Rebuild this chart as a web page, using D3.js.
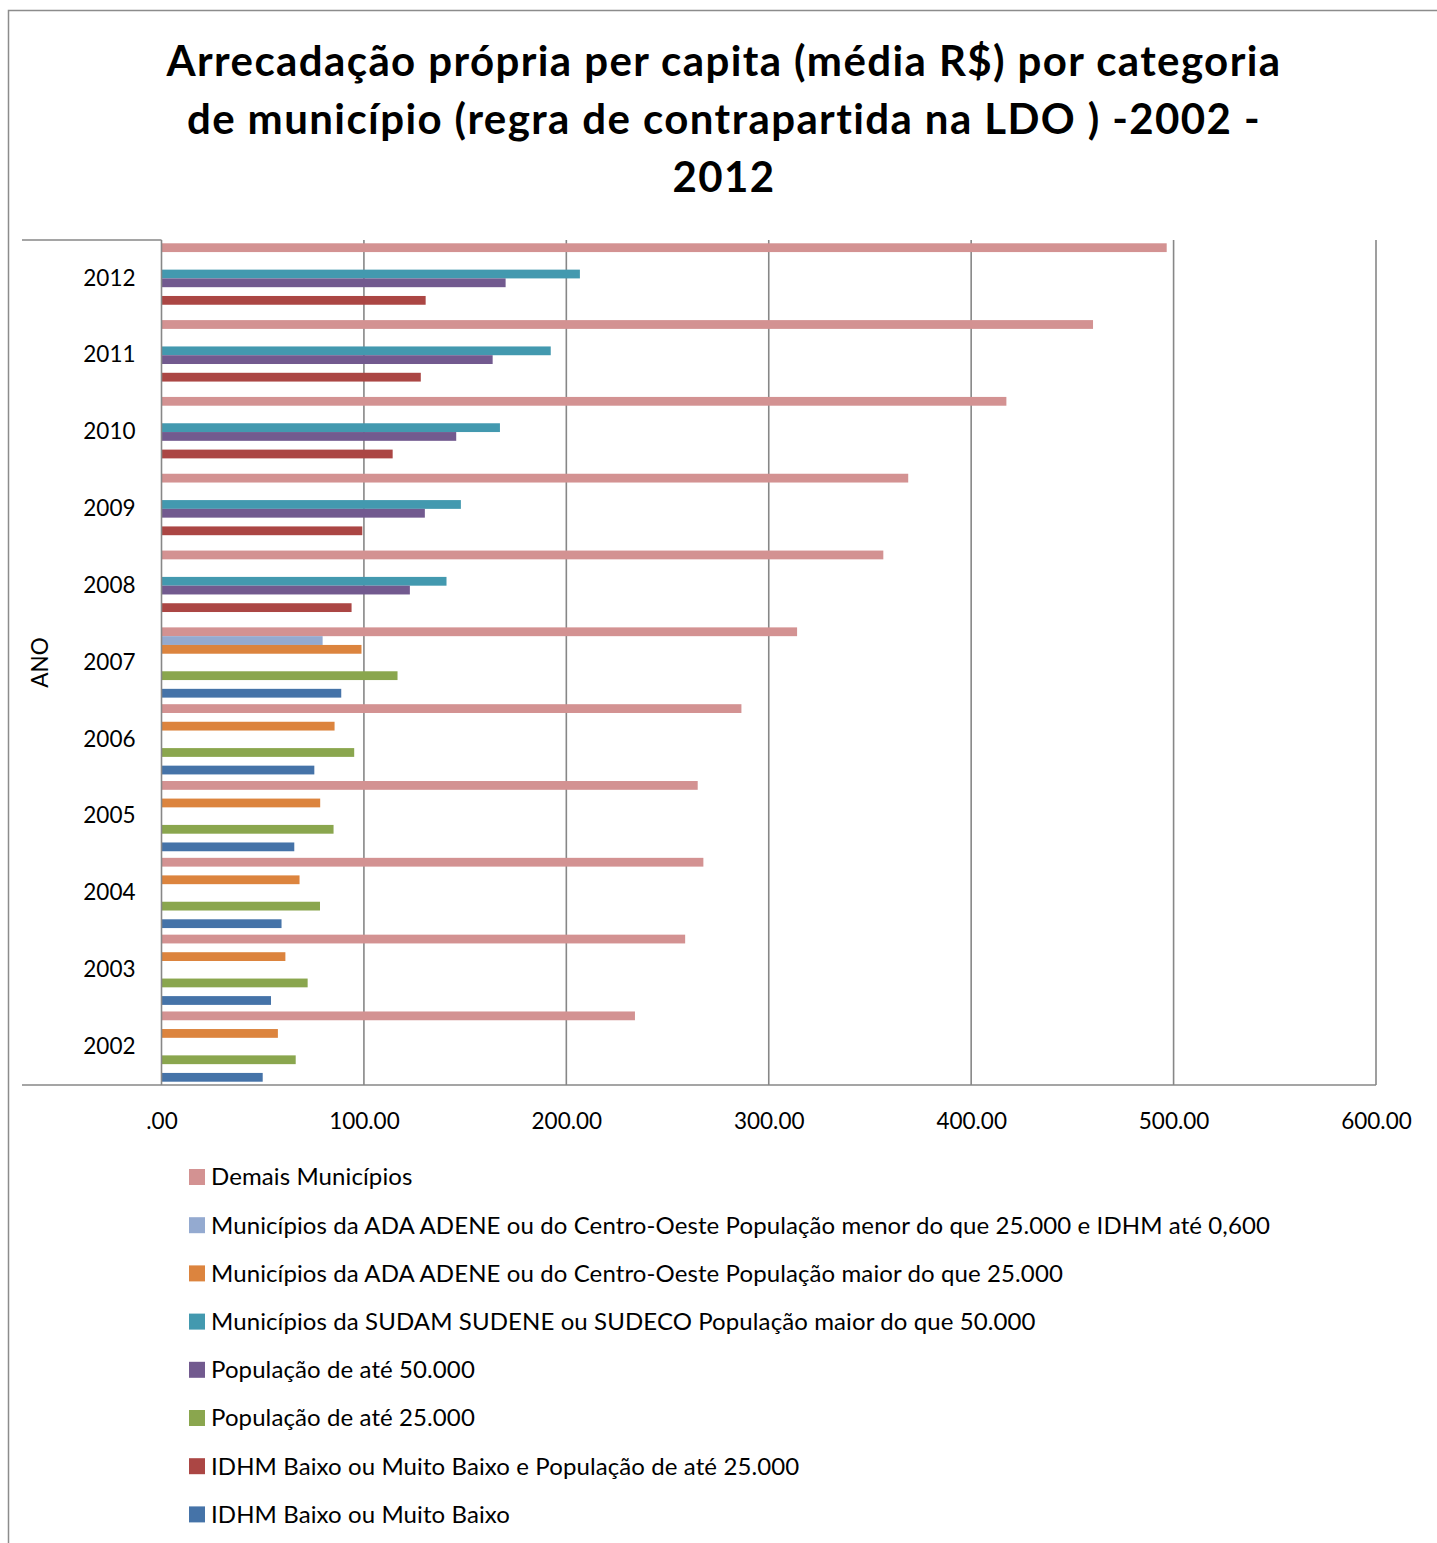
<!DOCTYPE html>
<html>
<head>
<meta charset="utf-8">
<script src="https://cdn.jsdelivr.net/npm/d3@7"></script>
<style>
  html, body { margin: 0; padding: 0; background: #fff; }
  svg { display: block; font-family: Lato, "Open Sans", sans-serif; }
</style>
</head>
<body>
<svg id="chart" width="1437" height="1543"></svg>
<script>
// Years shown on the category axis (2002 at the bottom)
const years = ["2002", "2003", "2004", "2005", "2006", "2007", "2008", "2009", "2010", "2011", "2012"];

// Average own revenue per capita (R$) per municipality category, one value per year
const idhmBaixo        = [50.0, 54.1, 59.3, 65.6, 75.5, 88.8, null, null, null, null, null];
const idhmBaixoPop25   = [null, null, null, null, null, null, 93.9, 99.2, 114.2, 128.1, 130.5];
const pop25            = [66.3, 72.2, 78.3, 85.0, 95.2, 116.6, null, null, null, null, null];
const pop50            = [null, null, null, null, null, null, 122.7, 130.1, 145.6, 163.6, 170.0];
const sudamPop50       = [null, null, null, null, null, null, 140.8, 147.9, 167.2, 192.3, 206.7];
const adaPopMaior25    = [57.5, 61.2, 68.2, 78.4, 85.5, 98.8, null, null, null, null, null];
const adaPopMenor25    = [null, null, null, null, null, 79.6, null, null, null, null, null];
const demais           = [233.9, 258.7, 267.7, 264.9, 286.5, 314.0, 356.6, 368.9, 417.4, 460.2, 496.6];

// Series names, in legend order (top of each year group first)
const seriesNames = [
  "Demais Municípios",
  "Municípios da ADA ADENE ou do Centro-Oeste População menor do que 25.000 e IDHM até 0,600",
  "Municípios da ADA ADENE ou do Centro-Oeste População maior do que 25.000",
  "Municípios da SUDAM SUDENE ou SUDECO População maior do que 50.000",
  "População de até 50.000",
  "População de até 25.000",
  "IDHM Baixo ou Muito Baixo e População de até 25.000",
  "IDHM Baixo ou Muito Baixo"
];
const seriesValues = [demais, adaPopMenor25, adaPopMaior25, sudamPop50, pop50, pop25, idhmBaixoPop25, idhmBaixo];
const seriesColors = ["#D39292", "#94AAD0", "#DC843E", "#4399AF", "#725A8F", "#8AA64E", "#AB4644", "#4573A8"];

// Value axis ticks
const xTicks = [0, 100, 200, 300, 400, 500, 600];
const xTickLabels = [".00", "100.00", "200.00", "300.00", "400.00", "500.00", "600.00"];

const titleLines = [
  "Arrecadação própria per capita (média R$) por categoria",
  "de município (regra de contrapartida na LDO ) -2002 -",
  "2012"
];

const svg = d3.select("#chart");
const gridColor = "#878787";

// Plot area
const plot = { left: 161.5, right: 1376, top: 240, bottom: 1085 };

// Outer frame (left and top edges)
svg.append("path")
  .attr("d", "M8.5,1543 L8.5,10.5 L1437,10.5")
  .attr("fill", "none").attr("stroke", "#8c8c8c").attr("stroke-width", 1.5);

// Title
svg.append("text")
  .attr("x", 724).attr("y", 76)
  .attr("text-anchor", "middle")
  .attr("font-weight", "bold").attr("font-size", 42).attr("letter-spacing", 1.4).attr("fill", "#000")
  .selectAll("tspan").data(titleLines).join("tspan")
  .attr("x", 724).attr("dy", (d, i) => i === 0 ? 0 : 58)
  .text(d => d);

const x = d3.scaleLinear().domain([0, 600]).range([plot.left, plot.right]);
const yOuter = d3.scaleBand().domain(years.slice().reverse()).range([plot.top, plot.bottom]).padding(0);
const yInner = d3.scaleBand().domain(d3.range(seriesNames.length))
  .range([0, yOuter.bandwidth()]).paddingInner(0).paddingOuter(0.375);

// Vertical gridlines
svg.append("g")
  .selectAll("line").data(xTicks.slice(1)).join("line")
  .attr("x1", d => x(d)).attr("x2", d => x(d))
  .attr("y1", plot.top).attr("y2", plot.bottom)
  .attr("stroke", gridColor).attr("stroke-width", 1.6);

// Bars
const barData = [];
seriesValues.forEach((vals, s) => {
  vals.forEach((v, i) => {
    if (v != null) barData.push({ s, year: years[i], v });
  });
});
svg.append("g")
  .selectAll("rect").data(barData).join("rect")
  .attr("x", x(0))
  .attr("y", d => yOuter(d.year) + yInner(d.s))
  .attr("width", d => x(d.v) - x(0))
  .attr("height", yInner.bandwidth())
  .attr("fill", d => seriesColors[d.s]);

// Category axis line and boundary strokes extending left
svg.append("line")
  .attr("x1", plot.left).attr("x2", plot.left).attr("y1", plot.top).attr("y2", plot.bottom)
  .attr("stroke", gridColor).attr("stroke-width", 1.6);
svg.append("line")
  .attr("x1", 22).attr("x2", plot.left).attr("y1", plot.top).attr("y2", plot.top)
  .attr("stroke", gridColor).attr("stroke-width", 1.6);
svg.append("line")
  .attr("x1", 22).attr("x2", plot.right).attr("y1", plot.bottom).attr("y2", plot.bottom)
  .attr("stroke", gridColor).attr("stroke-width", 1.6);

// Year labels
const yAxis = d3.axisLeft(yOuter).tickSize(0).tickPadding(26);
const yAxisG = svg.append("g").attr("transform", `translate(${plot.left},0)`).call(yAxis);
yAxisG.select(".domain").remove();
yAxisG.selectAll("text").attr("font-size", 22.5).attr("fill", "#000").attr("font-family", "Lato, sans-serif");

// Value axis labels
const xAxis = d3.axisBottom(x).tickValues(xTicks).tickSize(0).tickPadding(28)
  .tickFormat((d, i) => xTickLabels[i]);
const xAxisG = svg.append("g").attr("transform", `translate(0,${plot.bottom})`).call(xAxis);
xAxisG.select(".domain").remove();
xAxisG.selectAll("text").attr("font-size", 22.5).attr("fill", "#000").attr("font-family", "Lato, sans-serif");

// Axis title
svg.append("text")
  .attr("transform", `translate(48,${(plot.top + plot.bottom) / 2}) rotate(-90)`)
  .attr("text-anchor", "middle")
  .attr("font-size", 22.5).attr("fill", "#000")
  .text("ANO");

// Legend
const legend = svg.append("g")
  .selectAll("g").data(seriesNames).join("g")
  .attr("transform", (d, i) => `translate(189,${1177 + i * 48.2})`);
legend.append("rect")
  .attr("x", 0).attr("y", -8).attr("width", 16).attr("height", 16)
  .attr("fill", (d, i) => seriesColors[i]);
legend.append("text")
  .attr("x", 22).attr("y", 0).attr("dy", "0.35em")
  .attr("font-size", 24).attr("letter-spacing", 0.1).attr("fill", "#000")
  .text(d => d);
</script>
</body>
</html>
